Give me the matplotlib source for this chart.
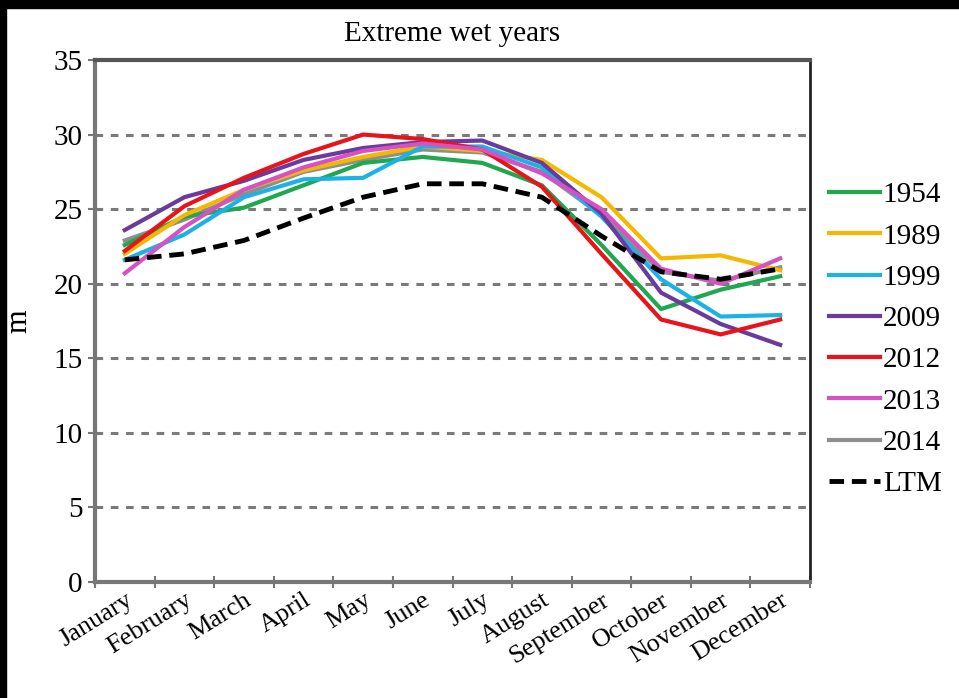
import matplotlib.pyplot as plt
from matplotlib.patches import Rectangle
import numpy as np

months = ['January', 'February', 'March', 'April', 'May', 'June', 'July',
          'August', 'September', 'October', 'November', 'December']

y1954 = [22.6, 24.5, 25.1, 26.6, 28.1, 28.5, 28.1, 26.6, 22.6, 18.3, 19.6, 20.5]
y1989 = [22.0, 24.6, 26.3, 27.6, 28.5, 29.2, 28.9, 28.3, 25.8, 21.7, 21.9, 20.9]
y1999 = [21.6, 23.3, 25.8, 27.0, 27.1, 29.2, 29.2, 27.8, 24.5, 20.3, 17.8, 17.9]
y2009 = [23.6, 25.8, 26.9, 28.3, 29.1, 29.5, 29.6, 28.1, 24.7, 19.4, 17.3, 15.9]
y2012 = [22.2, 25.2, 27.1, 28.7, 30.0, 29.7, 29.0, 26.5, 22.0, 17.6, 16.6, 17.6]
y2013 = [20.7, 23.8, 26.3, 27.8, 28.9, 29.4, 29.0, 27.4, 25.0, 21.0, 20.0, 21.7]
y2014 = [22.9, 24.3, 26.0, 27.5, 28.3, 29.0, 28.8, 27.5, 24.6, 20.8, 20.2, 21.1]
ltm = [21.6, 22.0, 22.9, 24.4, 25.8, 26.7, 26.7, 25.8, 23.2, 20.8, 20.3, 21.0]

series = [('1954', y1954, '#1fa84f'),
          ('1989', y1989, '#f4b800'),
          ('1999', y1999, '#1db2e6'),
          ('2009', y2009, '#6a3a9c'),
          ('2012', y2012, '#e8141c'),
          ('2013', y2013, '#d651c4'),
          ('2014', y2014, '#8e8e8e')]

plt.rcParams['font.family'] = ['Liberation Serif', 'DejaVu Serif']

fig = plt.figure(figsize=(9.59, 6.98), dpi=100)
# dark strips along the top and left edges
fig.patches.append(Rectangle((0, 1 - 8 / 698), 1, 8 / 698, transform=fig.transFigure,
                             color='black', zorder=0))
fig.patches.append(Rectangle((0, 0), 6 / 959, 1, transform=fig.transFigure,
                             color='black', zorder=0))

ax = fig.add_axes([95 / 959, 1 - 582 / 698, 715 / 959, 522 / 698])
x = np.arange(len(months))

for name, vals, col in series:
    # 2014 sits underneath the other years
    z = 1.5 if name == '2014' else 2
    ax.plot(x, vals, color=col, lw=3, label=name, zorder=z)
ax.plot(x, ltm, color='black', lw=3.5, ls=(0, (3, 1.6)), label='LTM', zorder=3)

ax.set_xlim(-0.5, 11.5)
ax.set_ylim(0, 35)
ax.set_yticks(range(0, 36, 5))
for v in range(5, 35, 5):
    ax.axhline(v, color='#7a7a7a', lw=2.2, ls=(0, (2.5, 2.5)), zorder=0)

ax.set_xticks(x)
ax.set_xticklabels(months, rotation=32, ha='right', va='top', rotation_mode='anchor')
ax.set_xticks(np.arange(-0.5, 12, 1), minor=True)
ax.tick_params(axis='x', which='major', length=0, pad=5, labelsize=19)
ax.tick_params(axis='x', which='minor', length=8, direction='inout', color='#777777', width=1.5)
ax.tick_params(axis='y', length=5, color='#777777', width=1.5, labelsize=21, pad=4)

for s in ['left', 'bottom']:
    ax.spines[s].set_color('#777777')
    ax.spines[s].set_linewidth(3)
ax.spines['top'].set_color('#555555')
ax.spines['top'].set_linewidth(3)
ax.spines['right'].set_color('#222222')
ax.spines['right'].set_linewidth(2)

ax.set_ylabel('m', fontsize=22, labelpad=14)
ax.set_title('Extreme wet years', fontsize=21, pad=14)

ax.legend(loc='upper left', bbox_to_anchor=(1.0, 0.803), frameon=False, fontsize=21,
          handlelength=1.75, handletextpad=0.1, labelspacing=0.51, borderaxespad=0.25)

fig.savefig('out.png', dpi=100, facecolor='white')
